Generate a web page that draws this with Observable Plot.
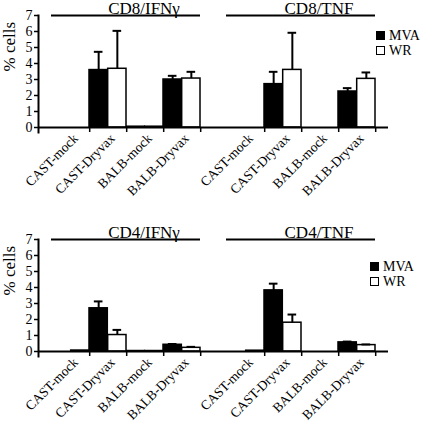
<!DOCTYPE html>
<html><head><meta charset="utf-8">
<script src="https://cdn.jsdelivr.net/npm/d3@7"></script>
<script src="https://cdn.jsdelivr.net/npm/@observablehq/plot@0.6"></script>
<style>
body{margin:0;background:#fff;}
#wrap{position:relative;width:425px;height:422px;background:#fff;font-family:"Liberation Serif",serif;overflow:hidden;}
.panel{position:absolute;left:0;overflow:visible;}
.legend{position:absolute;font-family:"Liberation Serif",serif;font-size:14px;color:#000;line-height:15px;}
.legend div{font-family:"Liberation Serif",serif;}
.legend .sw{display:inline-block;width:7px;height:7px;border:1px solid #000;margin-right:4px;vertical-align:0px;}
</style></head><body><div id="wrap"></div>
<script>
const categories = ["CAST-mock", "CAST-Dryvax", "BALB-mock", "BALB-Dryvax"];
const series = ["MVA", "WR"];
const seriesFill = ["black", "white"];
const topGroups = ["CD8/IFNγ", "CD8/TNF"];
const bottomGroups = ["CD4/IFNγ", "CD4/TNF"];
const yTicks = [0, 1, 2, 3, 4, 5, 6, 7];
const yLabel = "% cells";

// values per category (order of `categories`)
const cd8IfnMVA    = [0, 3.59, 0.05, 3.00];
const cd8IfnMVAErr = [0, 1.14, 0, 0.23];
const cd8IfnWR     = [0, 3.67, 0.05, 3.06];
const cd8IfnWRErr  = [0, 2.37, 0, 0.42];

const cd8TnfMVA    = [0, 2.71, 0, 2.25];
const cd8TnfMVAErr = [0, 0.77, 0, 0.21];
const cd8TnfWR     = [0, 3.60, 0, 3.04];
const cd8TnfWRErr  = [0, 2.32, 0, 0.40];

const cd4IfnMVA    = [0, 2.70, 0.03, 0.42];
const cd4IfnMVAErr = [0, 0.43, 0, 0.05];
const cd4IfnWR     = [0.06, 1.03, 0.03, 0.23];
const cd4IfnWRErr  = [0, 0.32, 0, 0.06];

const cd4TnfMVA    = [0, 3.82, 0, 0.57];
const cd4TnfMVAErr = [0, 0.42, 0, 0.05];
const cd4TnfWR     = [0.05, 1.80, 0, 0.40];
const cd4TnfWRErr  = [0, 0.51, 0, 0.04];

function rowsFor(group, mva, mvaErr, wr, wrErr) {
  const out = [];
  categories.forEach((c, i) => {
    out.push({group, category: c, series: "MVA", value: mva[i], err: mvaErr[i]});
    out.push({group, category: c, series: "WR", value: wr[i], err: wrErr[i]});
  });
  return out;
}
const topRows = [
  ...rowsFor(topGroups[0], cd8IfnMVA, cd8IfnMVAErr, cd8IfnWR, cd8IfnWRErr),
  ...rowsFor(topGroups[1], cd8TnfMVA, cd8TnfMVAErr, cd8TnfWR, cd8TnfWRErr)
];
const bottomRows = [
  ...rowsFor(bottomGroups[0], cd4IfnMVA, cd4IfnMVAErr, cd4IfnWR, cd4IfnWRErr),
  ...rowsFor(bottomGroups[1], cd4TnfMVA, cd4TnfMVAErr, cd4TnfWR, cd4TnfWRErr)
];

const W = 425, ML = 37, MR = 37;
const facetW = (W - ML - MR) / 2;
const padPx = 13;
const bw = (facetW - 2 * padPx) / categories.length;
const padOuter = padPx / bw;
const font = "Liberation Serif";

function panel(groups, rows, height, mt, mb) {
  const labelRows = groups.flatMap(g => categories.map(c => ({group: g, category: c})));
  const titleRows = groups.map(g => ({group: g}));
  const mva = rows.filter(d => d.series === "MVA");
  const wr = rows.filter(d => d.series === "WR");
  const cap = 4.5;
  return Plot.plot({
    width: W, height, marginLeft: ML, marginRight: MR, marginTop: mt, marginBottom: mb,
    style: {fontFamily: font, fontSize: "13px", color: "black", background: "transparent", overflow: "visible"},
    fx: {domain: groups, padding: 0, axis: null},
    x: {domain: categories, paddingInner: 0, paddingOuter: padOuter},
    y: {domain: [0, 7]},
    marks: [
      Plot.barY(mva, {fx: "group", x: "category", y: "value", fill: seriesFill[0], stroke: "black", strokeWidth: 1.5, insetRight: bw / 2}),
      Plot.barY(wr, {fx: "group", x: "category", y: "value", fill: seriesFill[1], stroke: "black", strokeWidth: 1.5, insetLeft: bw / 2}),
      Plot.ruleX(mva.filter(d => d.err > 0), {fx: "group", x: "category", y1: "value", y2: d => d.value + d.err, dx: -bw / 4, strokeWidth: 2}),
      Plot.ruleX(wr.filter(d => d.err > 0), {fx: "group", x: "category", y1: "value", y2: d => d.value + d.err, dx: bw / 4, strokeWidth: 2}),
      Plot.tickY(mva.filter(d => d.err > 0), {fx: "group", x: "category", y: d => d.value + d.err, insetLeft: bw / 4 - cap, insetRight: 3 * bw / 4 - cap, strokeWidth: 2}),
      Plot.tickY(wr.filter(d => d.err > 0), {fx: "group", x: "category", y: d => d.value + d.err, insetLeft: 3 * bw / 4 - cap, insetRight: bw / 4 - cap, strokeWidth: 2}),
      Plot.ruleY([0], {strokeWidth: 2}),
      Plot.ruleY([7], {strokeWidth: 2, insetLeft: padPx, insetRight: padPx}),
      Plot.frame({anchor: "left", facetAnchor: "left", strokeWidth: 2, insetBottom: -5}),
      Plot.axisY({ticks: yTicks, tickFormat: d3.format("d"), tickSize: 4, tickPadding: 2, label: null, strokeWidth: 1.5, fontSize: 14, fill: "black"}),
      Plot.axisX({tickSize: 5, tickFormat: () => "", label: null, dx: bw / 2, strokeWidth: 1.5}),
      Plot.text(labelRows, {fx: "group", x: "category", text: "category", frameAnchor: "bottom", rotate: -45, textAnchor: "end", lineAnchor: "top", dx: 1, dy: 5, fontSize: 13.5, fill: "black"}),
      Plot.text(titleRows, {fx: "group", text: "group", frameAnchor: "top", lineAnchor: "bottom", dy: -2, dx: 18, fontSize: 17, fill: "black"}),
      Plot.text([{group: groups[0]}], {fx: "group", text: () => yLabel, frameAnchor: "left", rotate: -90, dx: -29, fontSize: 17, fill: "black"})
    ]
  });
}

function legend(left, top) {
  const div = document.createElement("div");
  div.className = "legend";
  div.style.left = left + "px";
  div.style.top = top + "px";
  series.forEach((s, i) => {
    const row = document.createElement("div");
    const sw = document.createElement("span");
    sw.className = "sw";
    sw.style.background = seriesFill[i];
    row.appendChild(sw);
    row.appendChild(document.createTextNode(s));
    div.appendChild(row);
  });
  return div;
}

const wrap = document.getElementById("wrap");
const p1 = panel(topGroups, topRows, 206, 15, 79);
p1.classList.add("panel"); p1.style.top = "0px";
const p2 = panel(bottomGroups, bottomRows, 222, 39, 71);
p2.classList.add("panel"); p2.style.top = "200px";
wrap.appendChild(p2);
wrap.appendChild(p1);
wrap.appendChild(legend(376, 28));
wrap.appendChild(legend(370, 259));
</script>
</body></html>
